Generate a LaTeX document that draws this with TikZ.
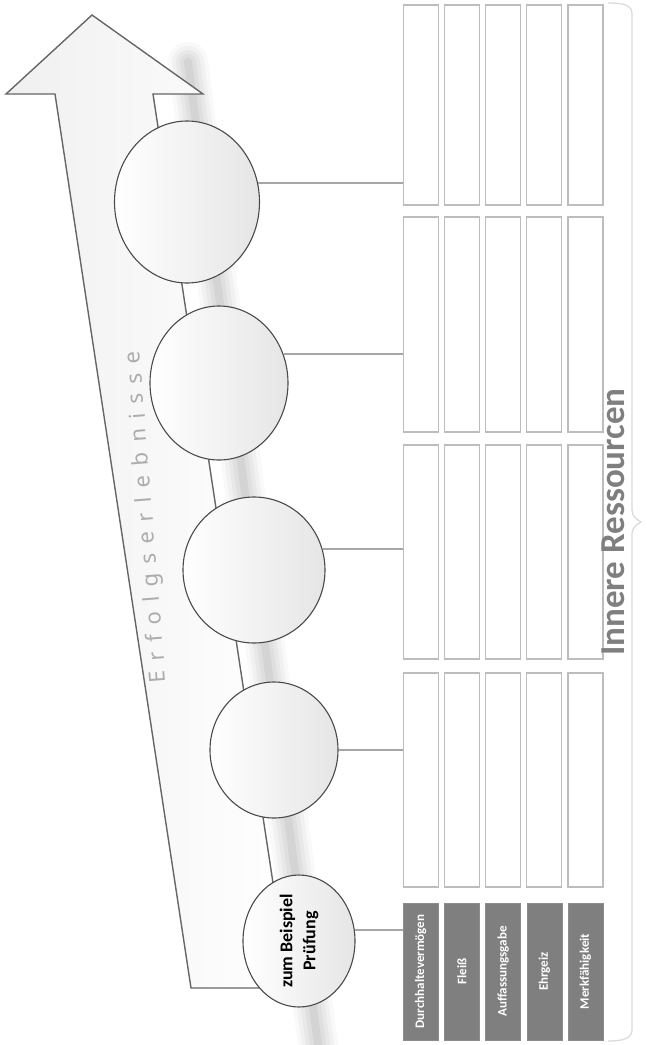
\documentclass[tikz,border=0pt]{standalone}
\usepackage{fontspec}
\setmainfont{Carlito}
\newfontfamily\spacedfont[LetterSpace=44]{Noto Sans}
\usetikzlibrary{positioning, shapes.geometric}

\definecolor{rimgray}{HTML}{4A4A4A}
\definecolor{framegray}{HTML}{BDBDBD}
\definecolor{traitgray}{HTML}{7F7F7F}

\begin{document}
\begin{tikzpicture}[
    x=1pt, y=-1pt,
    slot/.style={rectangle, draw=framegray, line width=1.1pt, fill=white, minimum width=35pt, inner sep=0pt},
    trait/.style={rectangle, fill=traitgray, draw=gray!90, line width=0.6pt, minimum height=35pt, inner sep=0pt, rotate=90, text=white, font=\bfseries\fontsize{13}{15}\selectfont},
    bubble/.style={ellipse, draw=rimgray, line width=1.1pt, left color=white, right color=gray!20, inner sep=0pt},
    link/.style={draw=gray!70, line width=1.6pt},
    arrowbody/.style={draw=gray!80!black, line width=1.4pt, left color=gray!12, right color=white}
]
\useasboundingbox (0,0) rectangle (647,1045);

% soft shadow along the arrow
\foreach \w/\o in {40/0.025, 32/0.03, 24/0.035, 16/0.04, 8/0.05}
  \draw[line width=\w pt, black, opacity=\o, line cap=round] (188,62) -- (318,1045);

% the arrow
\draw[arrowbody] (92,15) -- (203,94) -- (153,94) -- (289,988) -- (191,988) -- (55,94) -- (6,94) -- cycle;
\node[rotate=94.5, text=gray!65, font=\spacedfont\fontsize{22}{26}\selectfont] (motto) at (147,517) {Erfolgserlebnisse};

% bubbles on the arrow
\node[bubble, minimum width=112pt, minimum height=132pt] (c1) at (299,941) {};
\node[bubble, minimum width=128pt, minimum height=136pt] (c2) at (274,750) {};
\node[bubble, minimum width=142pt, minimum height=146pt] (c3) at (254,570) {};
\node[bubble, minimum width=138pt, minimum height=154pt] (c4) at (219,383) {};
\node[bubble, minimum width=145pt, minimum height=162pt] (c5) at (187,202) {};
\node[rotate=90, align=center, font=\bfseries\fontsize{18}{23}\selectfont] (c1text) at (c1) {zum Beispiel\\Prüfung};

% resource columns
\foreach \c/\txt in {1/Durchhaltevermögen, 2/Fleiß, 3/Auffassungsgabe, 4/Ehrgeiz, 5/Merkfähigkeit}
  \node[trait, minimum width=137pt] (t\c) at ({379.5+41.2*\c}, 971.5) {\txt};
\foreach \g/\top/\bot in {2/673/887, 3/445/659, 4/217/432, 5/5/205}{
  \foreach \c in {1,...,5}
    \node[slot, minimum height={\bot-\top}] (s\g\c) at ({379.5+41.2*\c}, {(\top+\bot)/2}) {};
}

% connectors
\draw[link] (c1.11) -- (c1.11 -| t1.north);
\draw[link] (c2.east) -- (c2.east -| s21.west);
\draw[link] (c3.17) -- (c3.17 -| s31.west);
\draw[link] (c4.24) -- (c4.24 -| s41.west);
\draw[link] (c5.15) -- (c5.15 -| s51.west);

% brace and caption
\draw[gray!30, line width=1.2pt] (608,3) .. controls (624,3) and (632,5) .. (632,14) -- (632,510)
  .. controls (632,516) and (636,519) .. (641,522) .. controls (636,525) and (632,528) .. (632,534)
  -- (632,1030) .. controls (632,1038) and (624,1041) .. (608,1041);
\node[rotate=90, text=traitgray, font=\bfseries\fontsize{35}{38}\selectfont] (caption) at (613,522) {Innere Ressourcen};
\end{tikzpicture}
\end{document}
